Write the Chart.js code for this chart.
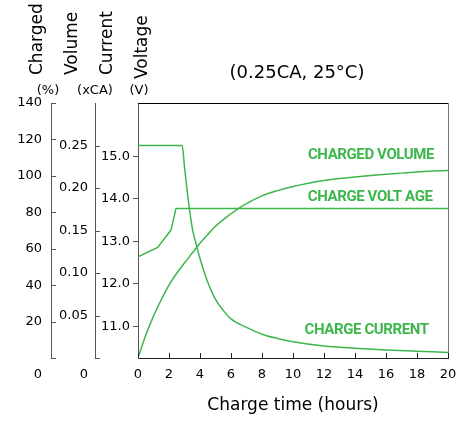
<!DOCTYPE html>
<html>
<head>
<meta charset="utf-8">
<title>Charge characteristics</title>
<script src="https://cdn.jsdelivr.net/npm/chart.js@4.4.1/dist/chart.umd.min.js"></script>
<style>
  html, body { margin: 0; padding: 0; background: #fff; }
  #wrap { width: 463px; height: 425px; position: relative; }
</style>
</head>
<body>
<div id="wrap"><canvas id="chargeChart"></canvas></div>
<script>
// values
const hourTicks = [0, 2, 4, 6, 8, 10, 12, 14, 16, 18, 20];
const chargedTicks = [0, 20, 40, 60, 80, 100, 120, 140];
const currentTicks = [0, 0.05, 0.10, 0.15, 0.20, 0.25];
const voltTicks = [11, 12, 13, 14, 15];

const volumeHours = [0, 0.5, 1, 1.5, 2, 2.5, 3, 3.5, 4, 4.5, 5, 5.5, 6, 6.5, 7, 8, 9, 10, 11, 12, 13, 14, 15, 16, 17, 18, 19, 20];
const volumePct = [0, 12.5, 23, 32, 40, 46.5, 52.2, 57.6, 63, 67.8, 72.3, 76, 79.2, 82.2, 84.8, 89, 91.9, 94.2, 96, 97.4, 98.5, 99.4, 100.2, 100.9, 101.5, 102.1, 102.6, 103];

const currentHours = [0, 2.85, 3, 3.25, 3.5, 3.75, 4, 4.5, 5, 5.5, 6, 7, 8, 9, 10, 12, 14, 16, 18, 20];
const currentCA = [0.25, 0.25, 0.225, 0.185, 0.153, 0.134, 0.117, 0.089, 0.069, 0.056, 0.046, 0.036, 0.028, 0.023, 0.019, 0.014, 0.0115, 0.0095, 0.008, 0.0065];

const voltHours = [0, 1.27, 2.13, 2.45, 20];
const voltValues = [12.63, 12.85, 13.26, 13.77, 13.77];

const GREEN = '#3db64b';
const TEXT = '#000';
const FONT = 'DejaVu Sans';

// where the texts sit (layout only)
const seriesLabels = [
    { text: 'CHARGED VOLUME', hours: 19.1, value: 111.5, axis: 'yCharged' },
    { text: 'CHARGE VOLT AGE', hours: 19.0, value: 14.03, axis: 'yVolt' },
    { text: 'CHARGE CURRENT', hours: 18.75, value: 0.033, axis: 'yCurrent' }
];
const axisNames = [
    { text: 'Charged', x: 41.5, y: 75 },
    { text: 'Volume', x: 77, y: 75 },
    { text: 'Current', x: 112, y: 75 },
    { text: 'Voltage', x: 147, y: 79 }
];
const axisUnits = [
    { text: '(%)', x: 48 },
    { text: '(xCA)', x: 95 },
    { text: '(V)', x: 139 }
];

function toPoints(xs, ys) {
    return xs.map((x, i) => ({ x: x, y: ys[i] }));
}

function fixTicks(values) {
    return scale => { scale.ticks = values.map(v => ({ value: v })); };
}

function fitWidth(w) {
    return s => { s.width = w; s.paddingTop = 0; s.paddingBottom = 0; };
}

const tickFont = { family: FONT, size: 13 };
const INNER_TICK = 5;

const textPlugin = {
    id: 'chartTexts',
    afterDraw(chart) {
        const { ctx, chartArea, scales } = chart;
        ctx.save();

        // frame: top and right edges of the plot box
        ctx.lineWidth = 1;
        ctx.strokeStyle = '#000';
        ctx.beginPath();
        ctx.moveTo(chartArea.left, chartArea.top + 0.5);
        ctx.lineTo(chartArea.right, chartArea.top + 0.5);
        ctx.stroke();
        ctx.strokeStyle = '#777';
        ctx.beginPath();
        ctx.moveTo(chartArea.right + 0.5, chartArea.top);
        ctx.lineTo(chartArea.right + 0.5, chartArea.bottom);
        ctx.stroke();

        // inward tick marks of the two outer axes and the hour axis
        ctx.strokeStyle = '#555';
        ['yCharged', 'yCurrent'].forEach(id => {
            const s = scales[id];
            s.ticks.forEach(t => {
                const y = Math.round(s.getPixelForValue(t.value)) + 0.5;
                ctx.beginPath();
                ctx.moveTo(s.right, y);
                ctx.lineTo(s.right + INNER_TICK, y);
                ctx.stroke();
            });
        });
        ctx.strokeStyle = '#222';
        scales.x.ticks.forEach(t => {
            const x = Math.round(scales.x.getPixelForValue(t.value)) + 0.5;
            ctx.beginPath();
            ctx.moveTo(x, chartArea.bottom);
            ctx.lineTo(x, chartArea.bottom - INNER_TICK);
            ctx.stroke();
        });

        // the "0" of the two outer axes sits on the hour label row
        ctx.fillStyle = TEXT;
        ctx.font = '13px ' + FONT;
        ctx.textAlign = 'right';
        ctx.textBaseline = 'middle';
        const zeroY = chartArea.bottom + 16.5;
        ctx.fillText('0', scales.yCharged.right - 9, zeroY);
        ctx.fillText('0', scales.yCurrent.right - 7, zeroY);

        // rotated axis names
        ctx.font = '17px ' + FONT;
        ctx.textAlign = 'left';
        ctx.textBaseline = 'alphabetic';
        axisNames.forEach(n => {
            ctx.save();
            ctx.translate(n.x, n.y);
            ctx.rotate(-Math.PI / 2);
            ctx.fillText(n.text, 0, 0);
            ctx.restore();
        });

        ctx.font = '13px ' + FONT;
        ctx.textAlign = 'center';
        ctx.textBaseline = 'middle';
        axisUnits.forEach(u => ctx.fillText(u.text, u.x, 91));

        // condition title over the plot
        ctx.font = '18px ' + FONT;
        ctx.fillText('(0.25CA, 25°C)', (chartArea.left + chartArea.right) / 2 + 4, 73);

        // curve names
        ctx.fillStyle = GREEN;
        ctx.font = 'bold 15px Roboto';
        ctx.letterSpacing = '-0.4px';
        ctx.textAlign = 'right';
        seriesLabels.forEach(l => {
            ctx.fillText(l.text, scales.x.getPixelForValue(l.hours), scales[l.axis].getPixelForValue(l.value));
        });

        ctx.restore();
    }
};

const lineStyle = {
    borderColor: GREEN,
    backgroundColor: GREEN,
    borderWidth: 1.5,
    pointRadius: 0,
    fill: false
};

new Chart(document.getElementById('chargeChart').getContext('2d'), {
    type: 'line',
    data: {
        datasets: [
            Object.assign({ label: 'Charged volume', data: toPoints(volumeHours, volumePct), yAxisID: 'yCharged', cubicInterpolationMode: 'monotone' }, lineStyle),
            Object.assign({ label: 'Charge current', data: toPoints(currentHours, currentCA), yAxisID: 'yCurrent', cubicInterpolationMode: 'monotone' }, lineStyle),
            Object.assign({ label: 'Charge voltage', data: toPoints(voltHours, voltValues), yAxisID: 'yVolt', tension: 0 }, lineStyle)
        ]
    },
    options: {
        responsive: true,
        maintainAspectRatio: false,
        animation: false,
        layout: { padding: { top: 103, right: 15, bottom: 0, left: 0 } },
        plugins: {
            legend: { display: false },
            tooltip: { enabled: false },
            title: { display: false }
        },
        scales: {
            x: {
                type: 'linear',
                position: 'bottom',
                min: 0,
                max: 20,
                afterBuildTicks: fixTicks(hourTicks),
                afterFit: s => { s.height = 67; s.paddingLeft = 0; s.paddingRight = 0; },
                ticks: { font: tickFont, color: TEXT, padding: 9, maxRotation: 0, autoSkip: false },
                grid: { drawOnChartArea: false, drawTicks: false, color: '#222' },
                border: { color: '#222' },
                title: { display: true, text: 'Charge time (hours)', color: TEXT, font: { family: FONT, size: 17 }, padding: { top: 0, bottom: 9 } }
            },
            yCharged: {
                type: 'linear',
                position: 'left',
                weight: 3,
                min: 0,
                max: 140,
                afterBuildTicks: fixTicks(chargedTicks),
                afterFit: fitWidth(51),
                ticks: { font: tickFont, color: TEXT, padding: 9, callback: v => (v === 0 ? '' : v) },
                grid: { drawOnChartArea: false, drawTicks: false, color: '#555' },
                border: { color: '#555' }
            },
            yCurrent: {
                type: 'linear',
                position: 'left',
                weight: 2,
                min: 0,
                max: 0.30,
                afterBuildTicks: fixTicks(currentTicks),
                afterFit: fitWidth(44),
                ticks: { font: tickFont, color: TEXT, padding: 7, callback: v => (v === 0 ? '' : v.toFixed(2)) },
                grid: { drawOnChartArea: false, drawTicks: false, color: '#555' },
                border: { color: '#555' }
            },
            yVolt: {
                type: 'linear',
                position: 'left',
                weight: 1,
                min: 10.25,
                max: 16.25,
                afterBuildTicks: fixTicks(voltTicks),
                afterFit: fitWidth(43),
                ticks: { font: tickFont, color: TEXT, padding: 3, callback: v => v.toFixed(1) },
                grid: { drawOnChartArea: false, tickLength: 5, color: '#555' },
                border: { color: '#555' }
            }
        }
    },
    plugins: [textPlugin]
});
</script>
</body>
</html>
